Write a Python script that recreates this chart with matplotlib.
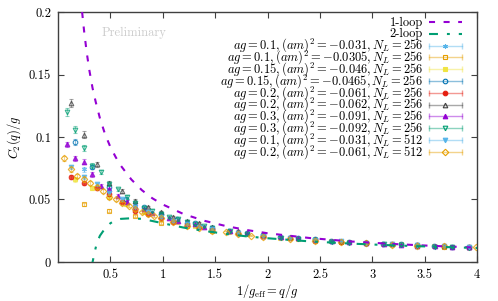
# C_2(q)/g 对 1/g_eff 的图，gnuplot 风格
import matplotlib
matplotlib.use("Agg")
import matplotlib.pyplot as plt

plt.rcParams['font.family'] = 'serif'
plt.rcParams['font.serif'] = ['cmr10']
plt.rcParams['mathtext.fontset'] = 'cm'
plt.rcParams['axes.formatter.use_mathtext'] = True

# 理论曲线
loop1_x = [0.23, 0.25, 0.275, 0.3, 0.33, 0.36, 0.4, 0.45, 0.5, 0.55, 0.6, 0.7, 0.8, 0.9,
           1.0, 1.2, 1.4, 1.6, 1.8, 2.0, 2.4, 2.8, 3.2, 3.6, 4.0]
loop1_y = [0.2, 0.184, 0.167, 0.153, 0.139, 0.128, 0.115, 0.102, 0.092, 0.084, 0.077, 0.066,
           0.0575, 0.051, 0.046, 0.0383, 0.0329, 0.0288, 0.0256, 0.023, 0.0192, 0.0164,
           0.0144, 0.0128, 0.0115]
loop2_x = [0.32, 0.33, 0.35, 0.37, 0.4, 0.45, 0.5, 0.55, 0.6, 0.7, 0.8, 0.9, 1.0, 1.2, 1.4,
           1.6, 1.8, 2.0, 2.4, 2.8, 3.2, 3.6, 4.0]
loop2_y = [-0.004, 0.0, 0.008, 0.015, 0.021, 0.027, 0.031, 0.0335, 0.0345, 0.035, 0.0345,
           0.0328, 0.031, 0.0275, 0.0248, 0.0225, 0.0205, 0.019, 0.0165, 0.0147, 0.0133,
           0.0122, 0.0112]

# 格点数据
x_a = [0.245, 0.49, 0.736, 0.98, 1.23, 1.47, 1.72, 1.96, 2.21, 2.45, 2.70, 2.94, 3.19, 3.43,
       3.68, 3.92]
x_b = [0.164, 0.327, 0.49, 0.65, 0.82, 0.98, 1.14, 1.31, 1.47, 1.63, 1.80, 1.96, 2.12, 2.29,
       2.45, 2.61, 2.78, 2.94, 3.10, 3.27, 3.43, 3.59, 3.76, 3.92]
x_c = [0.123, 0.245, 0.368, 0.491, 0.614, 0.736, 0.859, 0.98, 1.10, 1.23, 1.35, 1.47, 1.72,
       1.96, 2.21, 2.45, 2.70, 2.94, 3.19, 3.43, 3.68, 3.92]
x_d = [0.082, 0.164, 0.245, 0.327, 0.409, 0.491, 0.573, 0.654, 0.736, 0.818, 0.90, 0.98, 1.06,
       1.15, 1.23, 1.31, 1.39, 1.47, 1.64, 1.80, 1.96, 2.13, 2.29, 2.45, 2.62, 2.78, 2.94,
       3.11, 3.27, 3.43, 3.60, 3.76, 3.92]
x_e = [0.061, 0.123, 0.184, 0.245, 0.307, 0.368, 0.43, 0.491, 0.552, 0.614, 0.675, 0.736,
       0.798, 0.859, 0.92, 0.98, 1.10, 1.23, 1.35, 1.47, 1.60, 1.72, 1.84, 1.96, 2.21, 2.45,
       2.70, 2.94, 3.19, 3.43, 3.68, 3.99]

y_s1 = [0.074, 0.057, 0.046, 0.038, 0.032, 0.028, 0.024, 0.021, 0.0195, 0.018, 0.0165, 0.0153,
        0.0142, 0.0133, 0.0125, 0.0118]
y_s2 = [0.046, 0.041, 0.037, 0.031, 0.029, 0.025, 0.023, 0.0205, 0.019, 0.017, 0.016, 0.015,
        0.014, 0.013, 0.0123, 0.0116]
y_s3 = [0.066, 0.059, 0.052, 0.046, 0.040, 0.036, 0.032, 0.029, 0.026, 0.024, 0.022, 0.021,
        0.0195, 0.0185, 0.0175, 0.0165, 0.016, 0.015, 0.0145, 0.014, 0.0132, 0.0128, 0.0122,
        0.0118]
y_s4 = [0.096, 0.076, 0.060, 0.050, 0.044, 0.038, 0.034, 0.031, 0.027, 0.025, 0.023, 0.0215,
        0.020, 0.019, 0.018, 0.017, 0.016, 0.0152, 0.0146, 0.014, 0.0134, 0.0128, 0.0123,
        0.0119]
y_s5 = [0.068, 0.063, 0.059, 0.054, 0.048, 0.041, 0.038, 0.035, 0.032, 0.030, 0.028, 0.026,
        0.023, 0.021, 0.019, 0.0175, 0.0163, 0.0152, 0.0142, 0.0133, 0.0125, 0.0118]
y_s6 = [0.127, 0.102, 0.078, 0.063, 0.057, 0.049, 0.044, 0.040, 0.036, 0.033, 0.031, 0.028,
        0.025, 0.0225, 0.020, 0.0185, 0.017, 0.0158, 0.0147, 0.0137, 0.0128, 0.012]
y_s7 = [0.094, 0.083, 0.080, 0.070, 0.061, 0.058, 0.053, 0.048, 0.045, 0.042, 0.039, 0.037,
        0.035, 0.033, 0.031, 0.030, 0.028, 0.027, 0.025, 0.023, 0.021, 0.020, 0.0188, 0.0177,
        0.0167, 0.0158, 0.015, 0.0143, 0.0137, 0.0131, 0.0126, 0.0121, 0.0117]
y_s8 = [0.120, 0.106, 0.091, 0.077, 0.072, 0.062, 0.058, 0.052, 0.047, 0.043, 0.041, 0.038,
        0.036, 0.034, 0.032, 0.030, 0.029, 0.027, 0.0245, 0.0225, 0.021, 0.0195, 0.0183,
        0.0173, 0.0163, 0.0155, 0.0147, 0.014, 0.0134, 0.0128, 0.0123, 0.0119, 0.0114]
y_s9 = [0.076, 0.068, 0.062, 0.055, 0.050, 0.044, 0.040, 0.036, 0.033, 0.030, 0.028, 0.026,
        0.0232, 0.021, 0.0192, 0.0178, 0.0165, 0.0154, 0.0144, 0.0135, 0.0126, 0.0119]
y_s10 = [0.083, 0.074, 0.069, 0.066, 0.063, 0.060, 0.057, 0.052, 0.050, 0.047, 0.045, 0.042,
         0.040, 0.038, 0.037, 0.035, 0.032, 0.029, 0.027, 0.025, 0.024, 0.022, 0.021, 0.020,
         0.0183, 0.017, 0.0158, 0.0148, 0.0139, 0.0131, 0.0124, 0.0116]
rel_err = 0.025  # 误差大约 2.5%

labels = [r'$ag = 0.1, (am)^2 = -0.031, N_L = 256$',
          r'$ag = 0.1, (am)^2 = -0.0305, N_L = 256$',
          r'$ag = 0.15, (am)^2 = -0.046, N_L = 256$',
          r'$ag = 0.15, (am)^2 = -0.0465, N_L = 256$',
          r'$ag = 0.2, (am)^2 = -0.061, N_L = 256$',
          r'$ag = 0.2, (am)^2 = -0.062, N_L = 256$',
          r'$ag = 0.3, (am)^2 = -0.091, N_L = 256$',
          r'$ag = 0.3, (am)^2 = -0.092, N_L = 256$',
          r'$ag = 0.1, (am)^2 = -0.031, N_L = 512$',
          r'$ag = 0.2, (am)^2 = -0.061, N_L = 512$']
xs = [x_a, x_a, x_b, x_b, x_c, x_c, x_d, x_d, x_c, x_e]
ys = [y_s1, y_s2, y_s3, y_s4, y_s5, y_s6, y_s7, y_s8, y_s9, y_s10]
colors = ['#56b4e9', '#e69f00', '#f0e442', '#0072b2', '#e51e10', '#404040',
          '#9400d3', '#009e73', '#56b4e9', '#e69f00']
markers = [(6, 2, 0), 's', 's', 'o', 'o', '^', '^', 'v', 'v', 'D']
filled = [True, False, True, False, True, False, True, False, True, False]

fig = plt.figure(figsize=(4.98, 3.01), dpi=100)
ax = fig.add_axes([0.1165, 0.1296, 0.8414, 0.8305])

dash1 = (2.9, 4.1)
dash2 = (4.3, 4.3, 1.4, 4.3)
ax.plot(loop1_x, loop1_y, color='#9400d3', lw=1.5, dashes=dash1, zorder=3)
ax.plot(loop2_x, loop2_y, color='#009e73', lw=1.5, dashes=dash2, zorder=3)

for x, y, c, m, f in zip(xs, ys, colors, markers, filled):
    err = [rel_err * v for v in y]
    mfc = c if f else 'none'
    ax.errorbar(x, y, yerr=err, fmt='none', ecolor=c, alpha=0.45, elinewidth=0.8,
                capsize=1.5, capthick=0.8, zorder=2)
    ax.plot(x, y, ls='none', marker=m, ms=3.3, mfc=mfc, mec=c, mew=0.8, alpha=0.8, zorder=2)

# 图例：gnuplot 风格，文字右对齐，样例在右边（手工画，方便控制行距）
tx = 0.871        # 文字右端 (axes 坐标)
hx0, hx1 = 0.885, 0.964
hxm = (hx0 + hx1) / 2
row0 = 1 - 10 / 250.0   # 第一行中心
drow = 11.8 / 250.0
base = 3.5 / 250.0
key = dict(transform=ax.transAxes, clip_on=False)

def row_y(i):
    return row0 - i * drow

ax.text(tx, row_y(0) - base, '1-loop', ha='right', va='baseline', fontsize=9,
        transform=ax.transAxes)
ax.plot([hx0, hx1], [row_y(0)] * 2, color='#9400d3', lw=1.5, dashes=dash1, **key)
ax.text(tx, row_y(1) - base, '2-loop', ha='right', va='baseline', fontsize=9,
        transform=ax.transAxes)
ax.plot([hx0, hx1], [row_y(1)] * 2, color='#009e73', lw=1.5, dashes=dash2, **key)
for i, (lab, c, m, f) in enumerate(zip(labels, colors, markers, filled)):
    yy = row_y(i + 2)
    mfc = c if f else 'none'
    ax.text(tx, yy - base, lab, ha='right', va='baseline', fontsize=9,
            transform=ax.transAxes)
    ax.plot([hx0, hx1], [yy, yy], color=c, alpha=0.45, lw=1, marker='|', ms=5, mew=1, **key)
    ax.plot([hxm], [yy], ls='none', marker=m, ms=3.3, mfc=mfc, mec=c, mew=0.8, **key)

ax.text(0.42, 0.183, 'Preliminary', color='#cccccc', fontsize=9, va='center')

ax.set_xlim(0, 4)
ax.set_ylim(0, 0.2)
ax.set_xticks([0.5, 1, 1.5, 2, 2.5, 3, 3.5, 4])
ax.set_xticklabels(['0.5', '1', '1.5', '2', '2.5', '3', '3.5', '4'])
ax.set_yticks([0, 0.05, 0.1, 0.15, 0.2])
ax.set_yticklabels(['0', '0.05', '0.1', '0.15', '0.2'])
ax.tick_params(direction='in', top=True, right=True, length=4, labelsize=9,
               color='#404040', pad=5)
for s in ax.spines.values():
    s.set_color('#404040')
    s.set_linewidth(1)

ax.set_xlabel(r'$1/g_{\rm eff} = q/g$', fontsize=9, labelpad=1)
ax.set_ylabel(r'$C_2(q)/g$', fontsize=9, labelpad=4)

plt.savefig('out.png', dpi=100)
